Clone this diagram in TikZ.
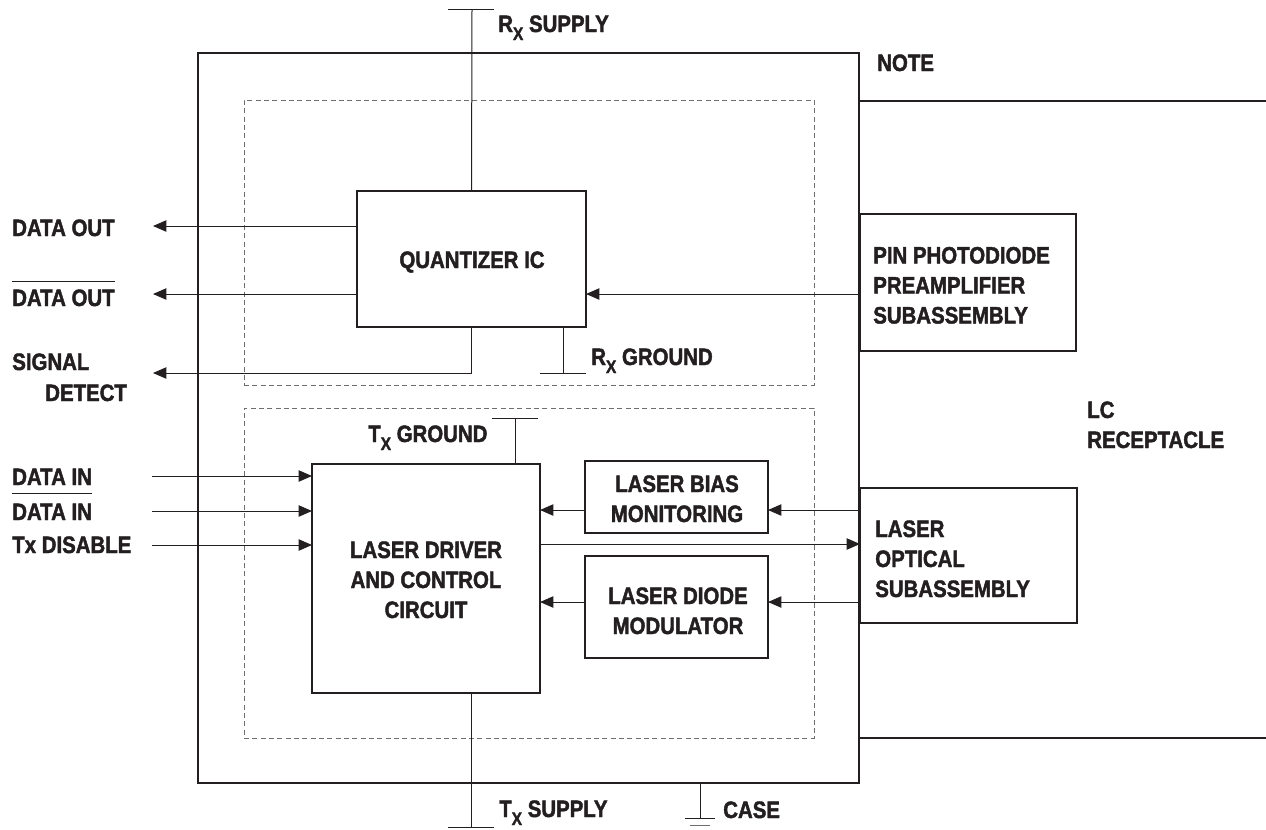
\documentclass[tikz,border=0pt]{standalone}
\usepackage{fontspec}
\setmainfont{Liberation Sans Bold}[FakeStretch=0.86,FakeBold=1.8]
\usetikzlibrary{arrows.meta,fit}
\definecolor{ink}{RGB}{35,31,32}
\definecolor{dashgray}{RGB}{110,110,110}
\newcommand\subX{\raisebox{-6pt}{\fontsize{13.5}{13.5}\selectfont X}}
\newcommand\ovl[2]{\vbox{\hrule height 0.75pt\kern#1\hbox{#2}}}
\newcommand\ctext[1]{\vtop{\halign{\hfil##\hfil\cr#1\crcr}}}
\newcommand\ltext[1]{\vtop{\halign{##\hfil\cr#1\crcr}}}
\begin{document}
\begin{tikzpicture}[x=0.75pt,y=-0.75pt,
  font=\fontsize{17.8}{22.5}\selectfont,
  box/.style={draw=ink,line width=1.5pt,inner sep=0pt,outer sep=0pt},
  dbox/.style={draw=dashgray,line width=0.75pt,dash pattern=on 3.75pt off 2.5pt,inner sep=0pt,outer sep=0pt},
  wire/.style={draw=ink,line width=0.75pt},
  frameline/.style={draw=ink,line width=1.5pt},
  arr/.style={wire,-{Triangle[length=10pt,width=8.5pt]}},
  lbl/.style={anchor=base west,inner sep=0pt,text=ink},
  clbl/.style={anchor=base,inner sep=0pt,text=ink}]
\useasboundingbox (0,0) rectangle (1266,829);

% module frame and dashed groups
\node[box,fit={(198,53)(859,783)}] (frame) {};
\node[dbox,fit={(244,100)(814,385)}] (rxgrp) {};
\node[dbox,fit={(244,408)(814,738)}] (txgrp) {};
\coordinate (r1) at (1266,101);
\coordinate (r2) at (1266,738);
\draw[frameline] (frame.east |- r1) -- (r1);
\draw[frameline] (frame.east |- r2) -- (r2);

% blocks
\node[box,fit={(357,191)(586,327)}] (q) {};
\node[box,fit={(860,214)(1076,351)}] (pin) {};
\node[box,fit={(312,464)(540,693)}] (drv) {};
\node[box,fit={(585,461)(768,533)}] (bias) {};
\node[box,fit={(585,556)(768,658)}] (mdl) {};
\node[box,fit={(860,488)(1077,623)}] (los) {};

% block texts
\node[clbl] (qt) at (472,268) {QUANTIZER IC};
\node[lbl] (pint) at (873,263.5) {\ltext{PIN PHOTODIODE\cr PREAMPLIFIER\cr SUBASSEMBLY}};
\node[clbl] (drvt) at (426,558) {\ctext{LASER DRIVER\cr AND CONTROL\cr CIRCUIT}};
\node[clbl] (biast) at (677,492) {\ctext{LASER BIAS\cr MONITORING}};
\node[clbl] (mdlt) at (678,604) {\ctext{LASER DIODE\cr MODULATOR}};
\node[lbl] (lost) at (875,537) {\ltext{LASER\cr OPTICAL\cr SUBASSEMBLY}};

% supplies and grounds
\coordinate (rxs) at (472,9);
\draw[wire] (rxs) -- (q.north);
\draw[wire] (448,9) -- (494,9);
\node[lbl] (rxst) at (498,32) {R\subX\ SUPPLY};

\coordinate (rxg) at (563,373);
\draw[wire] (q.south -| rxg) -- (rxg);
\draw[wire] (540,373) -- (586,373);
\node[lbl] (rxgt) at (591,365) {R\subX\ GROUND};

\coordinate (txg) at (515,418);
\draw[wire] (txg) -- (drv.north -| txg);
\draw[wire] (492,418) -- (538,418);
\node[lbl] (txgt) at (368,442) {T\subX\ GROUND};

\coordinate (txs) at (471,827);
\draw[wire] (drv.south -| txs) -- (txs);
\draw[wire] (448,827) -- (494,827);
\node[lbl] (txst) at (499,817) {T\subX\ SUPPLY};

\coordinate (cs) at (700,818);
\draw[wire] (frame.south -| cs) -- (cs);
\draw[wire] (685,818) -- (715,818);
\draw[wire,draw=dashgray] (690,825) -- (710,825);
\node[lbl] (cst) at (723,818) {CASE};

\node[lbl] (note) at (877,71) {NOTE};
\node[lbl] (lc) at (1087,418) {\ltext{LC\cr RECEPTACLE}};

% receiver outputs
\coordinate (do1) at (153,226);
\coordinate (do2) at (153,294);
\coordinate (sd) at (153,373);
\draw[arr] (q.west |- do1) -- (do1);
\draw[arr] (q.west |- do2) -- (do2);
\draw[arr] (q.south) -- (q.south |- sd) -- (sd);
\node[lbl] (do1t) at (12,236) {DATA OUT};
\node[lbl] (do2t) at (12,306) {\ovl{5.5pt}{DATA OUT}};
\node[lbl] (sd1t) at (12,370) {SIGNAL};
\node[lbl] (sd2t) at (45,401) {DETECT};

\draw[arr] (pin.west |- do2) -- (q.east |- do2);

% transmitter inputs
\coordinate (di1) at (152,476);
\coordinate (di2) at (152,511);
\coordinate (dis) at (152,545);
\draw[arr] (di1) -- (drv.west |- di1);
\draw[arr] (di2) -- (drv.west |- di2);
\draw[arr] (dis) -- (drv.west |- dis);
\node[lbl] (di1t) at (12,485) {DATA IN};
\node[lbl] (di2t) at (12,520) {\ovl{7pt}{DATA IN}};
\node[lbl] (dist) at (12,553) {Tx DISABLE};

% transmitter internal links
\coordinate (yb) at (0,510);
\coordinate (ym) at (0,602);
\coordinate (yo) at (0,544);
\draw[arr] (los.west |- yb) -- (bias.east |- yb);
\draw[arr] (bias.west |- yb) -- (drv.east |- yb);
\draw[arr] (los.west |- ym) -- (mdl.east |- ym);
\draw[arr] (mdl.west |- ym) -- (drv.east |- ym);
\draw[arr] (drv.east |- yo) -- (los.west |- yo);
\end{tikzpicture}
\end{document}
